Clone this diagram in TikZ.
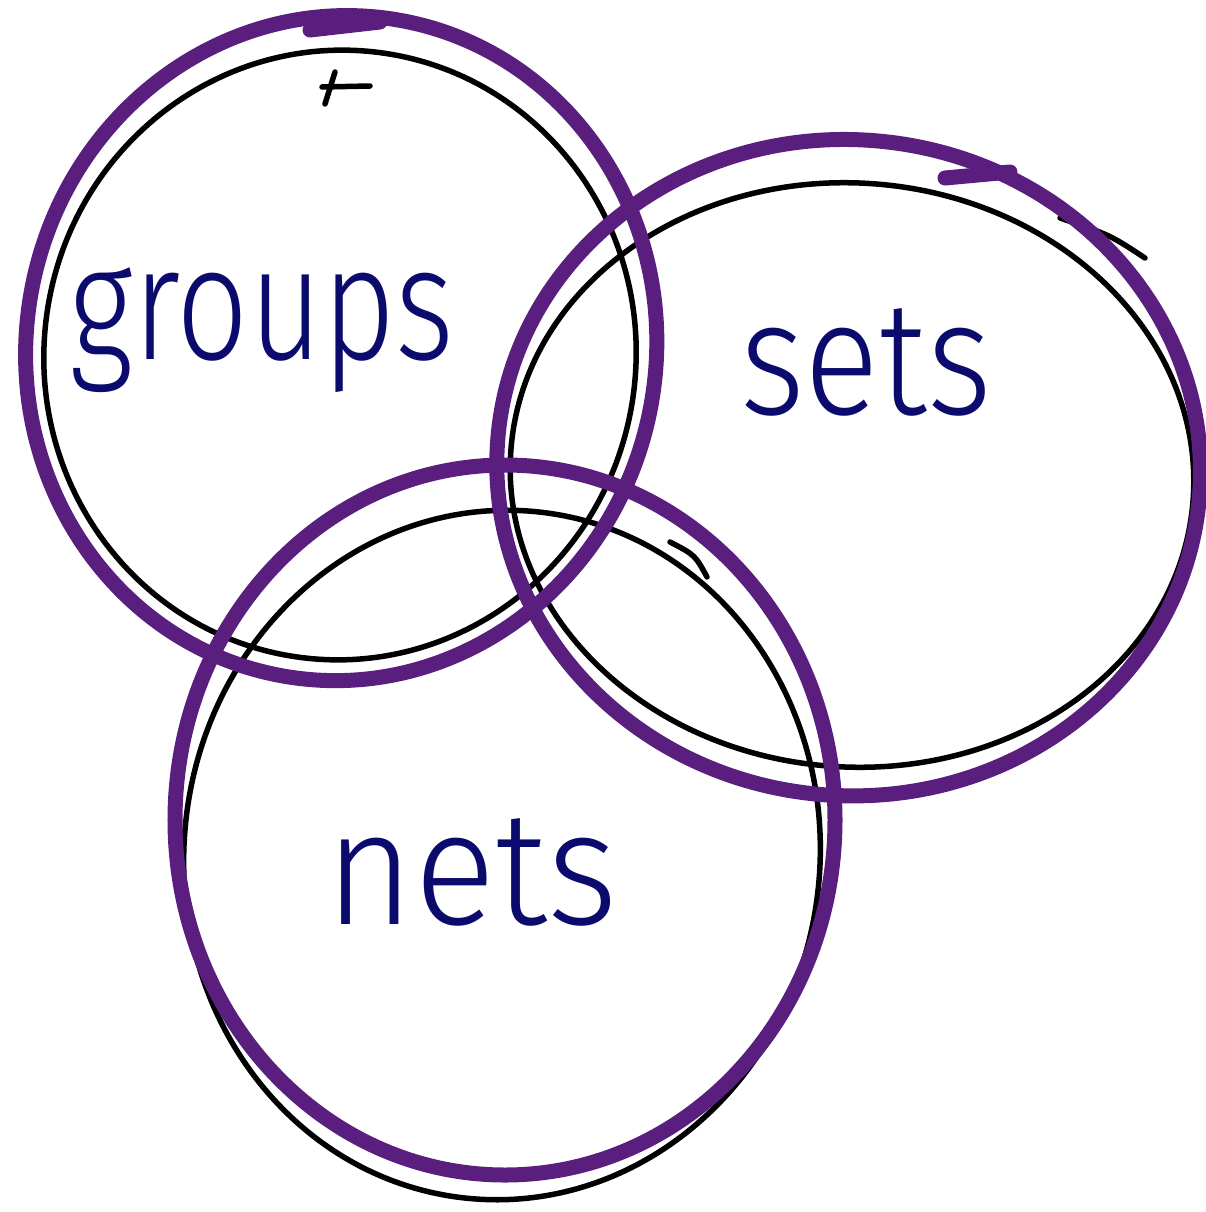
\documentclass[tikz,border=0pt]{standalone}
\usepackage{fontspec}
\setmainfont{Fira Sans}
\newfontfamily\handfont{Fira Sans Light}
\definecolor{penpurple}{HTML}{5A1F7E}
\definecolor{pennavy}{HTML}{0B0B6E}
\tikzset{
  thinring/.style={draw=black, line width=0.55mm, line cap=round},
  thickring/.style={draw=penpurple, line width=1.5mm, line cap=round},
  word/.style={text=pennavy, font=\handfont\fontsize{40}{44}\selectfont, xscale=0.9, yscale=1.15, inner sep=0pt}
}
\begin{document}
\begin{tikzpicture}[x=0.01cm, y=-0.01cm]
\useasboundingbox (0,0) rectangle (1206,1212);

% black rings
\coordinate (Gc) at (340,355);
\coordinate (Sc) at (852,475);
\coordinate (Nc) at (502,855);
\draw[thinring, rotate around={-8:(Gc)}] (Gc) ellipse (296 and 305);
\draw[thinring] (322,87) -- (370,86);
\draw[thinring] (335,72) -- (325,104);
\draw[thinring, rotate around={-4:(Sc)}] (Sc) ellipse (342 and 292);
\draw[thinring] (1145,258) .. controls (1110,235) .. (1060,218);
\draw[thinring, rotate around={-6:(Nc)}] (Nc) ellipse (318 and 345);
\draw[thinring] (707,577) .. controls (695,555) .. (670,542);

% purple rings
\draw[thickring, rotate around={-10:(Gc)}] (340,348) ellipse (315 and 333);
\draw[thickring] (310,30) -- (380,22);
\draw[thickring, rotate around={-5:(Sc)}] (848,468) ellipse (352 and 328);
\draw[thickring] (945,178) -- (1010,172);
\draw[thickring] (505,820) ellipse (330 and 355);

% labels
\node[word] (G) at (262,330) {groups};
\node[word, xscale=1.1] (S) at (866,362) {sets};
\node[word, xscale=1.2] (N) at (472,872) {nets};
\end{tikzpicture}
\end{document}
